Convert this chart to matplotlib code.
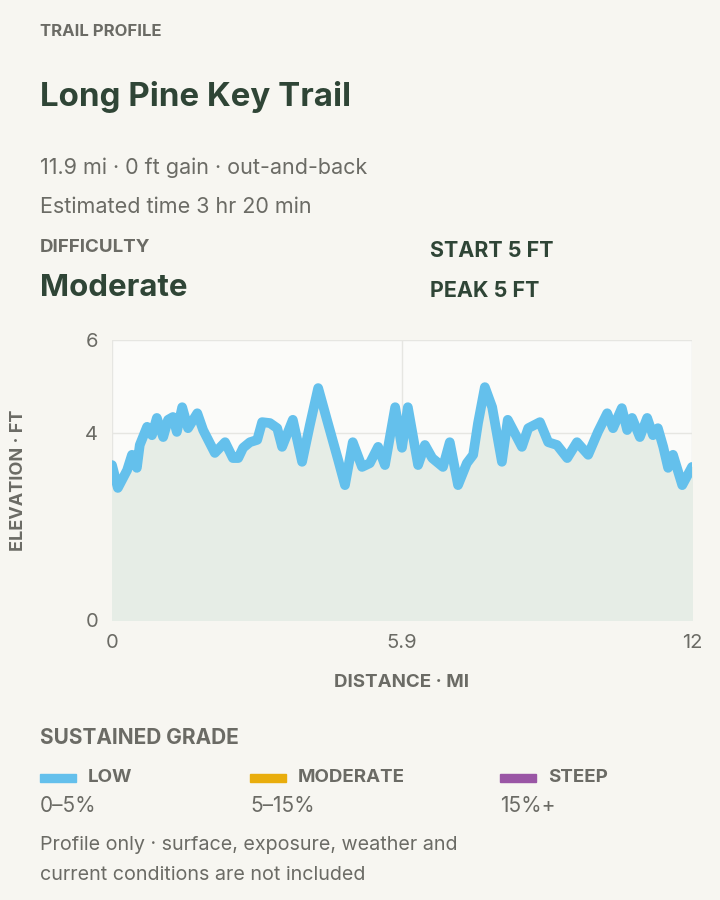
import matplotlib
matplotlib.use("Agg")
import matplotlib.pyplot as plt
from matplotlib.patches import Rectangle

dist_mi = [0, 0.12, 0.31, 0.41, 0.51, 0.57, 0.72, 0.82, 0.92, 1.05, 1.15, 1.25, 1.33, 1.44, 1.56, 1.75, 1.87,
           2.11, 2.32, 2.48, 2.59, 2.69, 2.83, 2.98, 3.08, 3.24, 3.39, 3.49, 3.71, 3.90, 4.06, 4.23, 4.41, 4.64,
           4.78, 4.94, 5.13, 5.29, 5.46, 5.60, 5.81, 5.95, 6.07, 6.28, 6.42, 6.57, 6.79, 6.93, 7.10, 7.28, 7.41,
           7.51, 7.65, 7.80, 8.00, 8.12, 8.41, 8.54, 8.78, 8.95, 9.13, 9.34, 9.54, 9.77, 9.97, 10.16, 10.28,
           10.46, 10.57, 10.67, 10.83, 10.98, 11.10, 11.20, 11.31, 11.41, 11.51, 11.70, 11.90]
elev_ft = [3.32, 2.83, 3.21, 3.54, 3.26, 3.75, 4.14, 3.96, 4.33, 3.92, 4.29, 4.35, 4.03, 4.56, 4.11, 4.43, 4.07,
           3.58, 3.81, 3.47, 3.47, 3.69, 3.81, 3.86, 4.24, 4.22, 4.11, 3.71, 4.29, 3.39, 4.18, 4.97, 4.29, 3.43,
           2.89, 3.81, 3.28, 3.36, 3.71, 3.32, 4.56, 3.69, 4.56, 3.32, 3.75, 3.47, 3.28, 3.81, 2.89, 3.36, 3.54,
           4.22, 4.99, 4.56, 3.39, 4.29, 3.71, 4.11, 4.24, 3.81, 3.75, 3.47, 3.81, 3.54, 4.03, 4.43, 4.11,
           4.54, 4.07, 4.33, 3.92, 4.33, 3.96, 4.11, 3.71, 3.26, 3.54, 2.89, 3.28]
x_ticks = [0, 5.95, 11.9]
x_tick_labels = ["0", "5.9", "12"]
y_ticks = [0, 4, 6]
grade_names = ["LOW", "MODERATE", "STEEP"]
grade_ranges = ["0–5%", "5–15%", "15%+"]
grade_colors = ["#64c0ec", "#e9ad0c", "#9a56a5"]

BG = "#f7f6f1"
DARK = "#2f4536"
GREY = "#6b6b65"
W, H = 720, 900
fig = plt.figure(figsize=(7.2, 9), dpi=100, facecolor=BG)
plt.rcParams['font.family'] = ['Inter', 'DejaVu Sans']

def t(x, y, s, size, color=GREY, weight="normal", **kw):
    fig.text(x / W, 1 - y / H, s, fontsize=size, color=color, weight=weight, va="center", **kw)

t(40, 31, "TRAIL PROFILE", 12, weight="bold")
t(40, 97, "Long Pine Key Trail", 23.8, color=DARK, weight="bold")
t(40, 168, "11.9 mi · 0 ft gain · out-and-back", 15.5)
t(40, 207, "Estimated time 3 hr 20 min", 15.5)
t(40, 248, "DIFFICULTY", 13.5, weight="bold")
t(40, 288, "Moderate", 22.5, color=DARK, weight="bold")
t(430, 251, "START 5 FT", 15.5, color=DARK, weight="bold")
t(430, 291, "PEAK 5 FT", 15.5, color=DARK, weight="bold")

ax = fig.add_axes([112 / W, 1 - 620 / H, 580 / W, 280 / H])
ax.set_facecolor("#fbfbf9")
ax.fill_between(dist_mi, elev_ft, 0, color="#e6ede6", zorder=1)
ax.plot(dist_mi, elev_ft, color="#64c0ec", lw=7, solid_joinstyle="round", solid_capstyle="round", zorder=3)
ax.set_xlim(0, 11.9)
ax.set_ylim(0, 6)
ax.set_xticks(x_ticks, x_tick_labels)
ax.set_yticks(y_ticks)
ax.grid(True, color="#e6e6e2", lw=1, zorder=0)
ax.set_axisbelow(True)
for s in ax.spines.values():
    s.set_visible(False)
ax.tick_params(length=0, labelsize=14.5, labelcolor=GREY, pad=10)
ax.set_xlabel("DISTANCE · MI", fontsize=13.5, color=GREY, weight="bold", labelpad=16)
ax.set_ylabel("ELEVATION · FT", fontsize=13, color=GREY, weight="bold")
ax.yaxis.set_label_coords(-(112 - 27) / 580, 0.5)

t(40, 738, "SUSTAINED GRADE", 15, weight="bold")
xs = [40, 250, 500]
for x0, n, r, c in zip(xs, grade_names, grade_ranges, grade_colors):
    fig.patches.append(Rectangle((x0 / W, 1 - 782 / H), 36 / W, 8 / H, transform=fig.transFigure, color=c))
    t(x0 + 48, 777, n, 13.5, weight="bold")
    t(x0, 806, r, 15)
t(40, 845, "Profile only · surface, exposure, weather and", 14.2)
t(40, 875, "current conditions are not included", 14.2)

fig.savefig("out.png", dpi=100, facecolor=BG)
